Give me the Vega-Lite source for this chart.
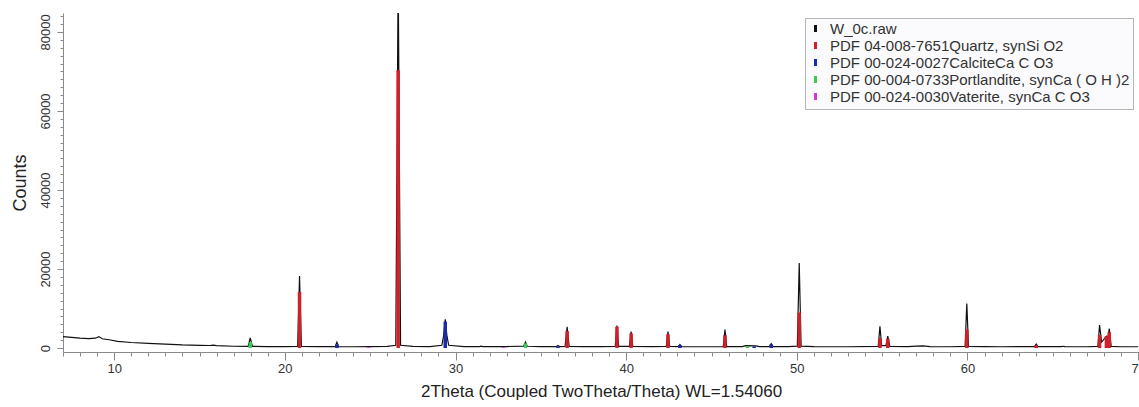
{
  "$schema": "https://vega.github.io/schema/vega-lite/v6.json",
  "autosize": {"type": "none"},
  "padding": {"left": 63, "top": 13, "right": 0, "bottom": 55},
  "width": 1076,
  "height": 339,
  "background": "white",
  "config": {
    "view": {"stroke": null},
    "font": "Liberation Sans",
    "axis": {"labelFont": "Liberation Sans", "titleFont": "Liberation Sans", "labelColor": "#333", "titleColor": "#222", "titleFontWeight": "normal", "domainColor": "#8a8a8a", "tickColor": "#8a8a8a", "grid": false}
  },
  "datasets": {
    "raw": [
      {"series": "W_0c.raw", "x": 7.0, "y": 2900},
      {"series": "W_0c.raw", "x": 7.5, "y": 2700},
      {"series": "W_0c.raw", "x": 8.0, "y": 2500},
      {"series": "W_0c.raw", "x": 8.5, "y": 2400},
      {"series": "W_0c.raw", "x": 8.9, "y": 2500},
      {"series": "W_0c.raw", "x": 9.1, "y": 2900},
      {"series": "W_0c.raw", "x": 9.3, "y": 2350},
      {"series": "W_0c.raw", "x": 9.7, "y": 2100},
      {"series": "W_0c.raw", "x": 10.2, "y": 1700},
      {"series": "W_0c.raw", "x": 11.0, "y": 1400},
      {"series": "W_0c.raw", "x": 12.0, "y": 1200},
      {"series": "W_0c.raw", "x": 13.0, "y": 1000},
      {"series": "W_0c.raw", "x": 14.0, "y": 800},
      {"series": "W_0c.raw", "x": 15.0, "y": 700},
      {"series": "W_0c.raw", "x": 15.6, "y": 650},
      {"series": "W_0c.raw", "x": 15.8, "y": 720},
      {"series": "W_0c.raw", "x": 16.0, "y": 620},
      {"series": "W_0c.raw", "x": 17.0, "y": 450},
      {"series": "W_0c.raw", "x": 17.85, "y": 420},
      {"series": "W_0c.raw", "x": 17.97, "y": 2600},
      {"series": "W_0c.raw", "x": 18.1, "y": 420},
      {"series": "W_0c.raw", "x": 19.0, "y": 380},
      {"series": "W_0c.raw", "x": 20.0, "y": 350},
      {"series": "W_0c.raw", "x": 20.75, "y": 400},
      {"series": "W_0c.raw", "x": 20.86, "y": 18200},
      {"series": "W_0c.raw", "x": 20.97, "y": 400},
      {"series": "W_0c.raw", "x": 22.0, "y": 350},
      {"series": "W_0c.raw", "x": 22.95, "y": 350},
      {"series": "W_0c.raw", "x": 23.05, "y": 1500},
      {"series": "W_0c.raw", "x": 23.15, "y": 350},
      {"series": "W_0c.raw", "x": 24.0, "y": 330},
      {"series": "W_0c.raw", "x": 25.0, "y": 350},
      {"series": "W_0c.raw", "x": 26.0, "y": 400},
      {"series": "W_0c.raw", "x": 26.5, "y": 700},
      {"series": "W_0c.raw", "x": 26.64, "y": 95000},
      {"series": "W_0c.raw", "x": 26.78, "y": 700},
      {"series": "W_0c.raw", "x": 27.5, "y": 400},
      {"series": "W_0c.raw", "x": 28.5, "y": 350},
      {"series": "W_0c.raw", "x": 29.2, "y": 700},
      {"series": "W_0c.raw", "x": 29.3, "y": 3000},
      {"series": "W_0c.raw", "x": 29.4, "y": 7300},
      {"series": "W_0c.raw", "x": 29.5, "y": 3000},
      {"series": "W_0c.raw", "x": 29.6, "y": 700},
      {"series": "W_0c.raw", "x": 30.5, "y": 350},
      {"series": "W_0c.raw", "x": 31.4, "y": 350},
      {"series": "W_0c.raw", "x": 31.5, "y": 500},
      {"series": "W_0c.raw", "x": 31.6, "y": 380},
      {"series": "W_0c.raw", "x": 33.0, "y": 380},
      {"series": "W_0c.raw", "x": 34.0, "y": 500},
      {"series": "W_0c.raw", "x": 34.1, "y": 1500},
      {"series": "W_0c.raw", "x": 34.2, "y": 450},
      {"series": "W_0c.raw", "x": 35.0, "y": 350},
      {"series": "W_0c.raw", "x": 35.9, "y": 350},
      {"series": "W_0c.raw", "x": 36.0, "y": 650},
      {"series": "W_0c.raw", "x": 36.1, "y": 380},
      {"series": "W_0c.raw", "x": 36.42, "y": 400},
      {"series": "W_0c.raw", "x": 36.54, "y": 5400},
      {"series": "W_0c.raw", "x": 36.66, "y": 400},
      {"series": "W_0c.raw", "x": 37.5, "y": 350},
      {"series": "W_0c.raw", "x": 38.5, "y": 350},
      {"series": "W_0c.raw", "x": 39.36, "y": 400},
      {"series": "W_0c.raw", "x": 39.46, "y": 5700},
      {"series": "W_0c.raw", "x": 39.56, "y": 400},
      {"series": "W_0c.raw", "x": 40.19, "y": 400},
      {"series": "W_0c.raw", "x": 40.29, "y": 4200},
      {"series": "W_0c.raw", "x": 40.39, "y": 400},
      {"series": "W_0c.raw", "x": 41.5, "y": 350},
      {"series": "W_0c.raw", "x": 42.35, "y": 400},
      {"series": "W_0c.raw", "x": 42.45, "y": 4200},
      {"series": "W_0c.raw", "x": 42.55, "y": 400},
      {"series": "W_0c.raw", "x": 43.05, "y": 350},
      {"series": "W_0c.raw", "x": 43.15, "y": 900},
      {"series": "W_0c.raw", "x": 43.25, "y": 350},
      {"series": "W_0c.raw", "x": 44.5, "y": 330},
      {"series": "W_0c.raw", "x": 45.69, "y": 350},
      {"series": "W_0c.raw", "x": 45.79, "y": 4700},
      {"series": "W_0c.raw", "x": 45.89, "y": 350},
      {"series": "W_0c.raw", "x": 46.8, "y": 350},
      {"series": "W_0c.raw", "x": 47.0, "y": 600},
      {"series": "W_0c.raw", "x": 47.6, "y": 550},
      {"series": "W_0c.raw", "x": 47.8, "y": 350},
      {"series": "W_0c.raw", "x": 48.4, "y": 350},
      {"series": "W_0c.raw", "x": 48.5, "y": 1100},
      {"series": "W_0c.raw", "x": 48.6, "y": 350},
      {"series": "W_0c.raw", "x": 49.5, "y": 350},
      {"series": "W_0c.raw", "x": 50.03, "y": 500},
      {"series": "W_0c.raw", "x": 50.14, "y": 21500},
      {"series": "W_0c.raw", "x": 50.25, "y": 500},
      {"series": "W_0c.raw", "x": 51.0, "y": 350},
      {"series": "W_0c.raw", "x": 52.0, "y": 330},
      {"series": "W_0c.raw", "x": 53.0, "y": 330},
      {"series": "W_0c.raw", "x": 54.77, "y": 400},
      {"series": "W_0c.raw", "x": 54.87, "y": 5500},
      {"series": "W_0c.raw", "x": 54.97, "y": 600},
      {"series": "W_0c.raw", "x": 55.22, "y": 600},
      {"series": "W_0c.raw", "x": 55.33, "y": 3000},
      {"series": "W_0c.raw", "x": 55.45, "y": 400},
      {"series": "W_0c.raw", "x": 56.5, "y": 350},
      {"series": "W_0c.raw", "x": 57.0, "y": 480},
      {"series": "W_0c.raw", "x": 57.4, "y": 560},
      {"series": "W_0c.raw", "x": 57.8, "y": 350},
      {"series": "W_0c.raw", "x": 59.0, "y": 330},
      {"series": "W_0c.raw", "x": 59.86, "y": 400},
      {"series": "W_0c.raw", "x": 59.96, "y": 11300},
      {"series": "W_0c.raw", "x": 60.06, "y": 400},
      {"series": "W_0c.raw", "x": 61.0, "y": 380},
      {"series": "W_0c.raw", "x": 62.0, "y": 330},
      {"series": "W_0c.raw", "x": 63.93, "y": 350},
      {"series": "W_0c.raw", "x": 64.03, "y": 1000},
      {"series": "W_0c.raw", "x": 64.13, "y": 350},
      {"series": "W_0c.raw", "x": 65.5, "y": 350},
      {"series": "W_0c.raw", "x": 65.6, "y": 450},
      {"series": "W_0c.raw", "x": 65.7, "y": 350},
      {"series": "W_0c.raw", "x": 67.0, "y": 330},
      {"series": "W_0c.raw", "x": 67.64, "y": 400},
      {"series": "W_0c.raw", "x": 67.74, "y": 5800},
      {"series": "W_0c.raw", "x": 67.86, "y": 1500},
      {"series": "W_0c.raw", "x": 68.14, "y": 3000},
      {"series": "W_0c.raw", "x": 68.22, "y": 2500},
      {"series": "W_0c.raw", "x": 68.31, "y": 4900},
      {"series": "W_0c.raw", "x": 68.42, "y": 400},
      {"series": "W_0c.raw", "x": 69.0, "y": 330},
      {"series": "W_0c.raw", "x": 70.0, "y": 330}
    ],
    "peaks": [
      {"series": "PDF 04-008-7651Quartz, synSi O2", "x": 20.86, "y": 14200},
      {"series": "PDF 04-008-7651Quartz, synSi O2", "x": 26.64, "y": 70300},
      {"series": "PDF 04-008-7651Quartz, synSi O2", "x": 36.54, "y": 4300},
      {"series": "PDF 04-008-7651Quartz, synSi O2", "x": 39.46, "y": 5400},
      {"series": "PDF 04-008-7651Quartz, synSi O2", "x": 40.29, "y": 3700},
      {"series": "PDF 04-008-7651Quartz, synSi O2", "x": 42.45, "y": 3500},
      {"series": "PDF 04-008-7651Quartz, synSi O2", "x": 45.79, "y": 3200},
      {"series": "PDF 04-008-7651Quartz, synSi O2", "x": 50.14, "y": 9000},
      {"series": "PDF 04-008-7651Quartz, synSi O2", "x": 54.87, "y": 2500},
      {"series": "PDF 04-008-7651Quartz, synSi O2", "x": 55.33, "y": 2300},
      {"series": "PDF 04-008-7651Quartz, synSi O2", "x": 59.96, "y": 4700},
      {"series": "PDF 04-008-7651Quartz, synSi O2", "x": 64.03, "y": 600},
      {"series": "PDF 04-008-7651Quartz, synSi O2", "x": 67.74, "y": 3300},
      {"series": "PDF 04-008-7651Quartz, synSi O2", "x": 68.14, "y": 3000},
      {"series": "PDF 04-008-7651Quartz, synSi O2", "x": 68.31, "y": 4000},
      {"series": "PDF 00-024-0027CalciteCa C O3", "x": 23.05, "y": 900},
      {"series": "PDF 00-024-0027CalciteCa C O3", "x": 29.4, "y": 6700},
      {"series": "PDF 00-024-0027CalciteCa C O3", "x": 36.0, "y": 400},
      {"series": "PDF 00-024-0027CalciteCa C O3", "x": 43.15, "y": 750},
      {"series": "PDF 00-024-0027CalciteCa C O3", "x": 47.5, "y": 400},
      {"series": "PDF 00-024-0027CalciteCa C O3", "x": 48.5, "y": 900},
      {"series": "PDF 00-004-0733Portlandite, synCa ( O H )2", "x": 17.97, "y": 1500},
      {"series": "PDF 00-004-0733Portlandite, synCa ( O H )2", "x": 34.1, "y": 1200},
      {"series": "PDF 00-004-0733Portlandite, synCa ( O H )2", "x": 47.1, "y": 450},
      {"series": "PDF 00-024-0030Vaterite, synCa C O3", "x": 24.9, "y": 200},
      {"series": "PDF 00-024-0030Vaterite, synCa C O3", "x": 32.8, "y": 200}
    ]
  },
  "layer": [
    {
      "data": {"name": "raw"},
      "mark": {"type": "line", "strokeWidth": 1.2, "clip": true},
      "encoding": {
        "x": {"field": "x", "type": "quantitative",
          "scale": {"domain": [7, 70.05], "nice": false, "zero": false},
          "axis": {"orient": "bottom", "values": [10, 20, 30, 40, 50, 60, 70], "tickSize": 8, "labelFontSize": 13, "labelPadding": 2, "labelFlush": false, "labelOverlap": false, "labelBound": false, "title": "2Theta (Coupled TwoTheta/Theta) WL=1.54060", "titleFontSize": 17, "titlePadding": 8}},
        "y": {"field": "y", "type": "quantitative",
          "scale": {"domain": [-1000, 84800], "nice": false, "zero": false},
          "axis": {"orient": "left", "values": [0, 20000, 40000, 60000, 80000], "format": "d", "tickSize": 6, "labelAngle": 270, "labelFontSize": 13, "labelPadding": 5, "labelFlush": false, "title": "Counts", "titleFontSize": 18, "titlePadding": 10}},
        "color": {"field": "series", "type": "nominal",
          "scale": {"domain": ["W_0c.raw", "PDF 04-008-7651Quartz, synSi O2", "PDF 00-024-0027CalciteCa C O3", "PDF 00-004-0733Portlandite, synCa ( O H )2", "PDF 00-024-0030Vaterite, synCa C O3"], "range": ["#111111", "#d0202a", "#1a2aa8", "#3ec85a", "#d23ad2"]},
          "legend": {"title": null, "orient": "none", "legendX": 742, "legendY": 5, "symbolType": "M0,-0.7V0.7", "symbolSize": 100, "symbolStrokeWidth": 3, "labelFont": "Liberation Sans", "labelFontSize": 15, "labelColor": "#333", "labelLimit": 400, "rowPadding": -3, "padding": 3, "strokeColor": "#b5b5b5", "fillColor": "#fbfbfd", "labelOffset": 7}}
      }
    },
    {
      "data": {"name": "peaks"},
      "mark": {"type": "rule", "strokeWidth": 3.5, "clip": true},
      "encoding": {
        "x": {"field": "x", "type": "quantitative",
          "axis": {"orient": "bottom", "values": [7, 8, 9, 11, 12, 13, 14, 15, 16, 17, 18, 19, 21, 22, 23, 24, 25, 26, 27, 28, 29, 31, 32, 33, 34, 35, 36, 37, 38, 39, 41, 42, 43, 44, 45, 46, 47, 48, 49, 51, 52, 53, 54, 55, 56, 57, 58, 59, 61, 62, 63, 64, 65, 66, 67, 68, 69], "tickSize": 4, "labels": false, "domain": false, "title": null}},
        "y": {"field": "y", "type": "quantitative",
          "axis": {"orient": "left", "values": [2000, 4000, 6000, 8000, 10000, 12000, 14000, 16000, 18000, 22000, 24000, 26000, 28000, 30000, 32000, 34000, 36000, 38000, 42000, 44000, 46000, 48000, 50000, 52000, 54000, 56000, 58000, 62000, 64000, 66000, 68000, 70000, 72000, 74000, 76000, 78000, 82000, 84000], "tickSize": 3, "labels": false, "domain": false, "title": null}},
        "y2": {"datum": 0},
        "color": {"field": "series", "type": "nominal"}
      }
    }
  ],
  "resolve": {"axis": {"x": "independent", "y": "independent"}}
}
